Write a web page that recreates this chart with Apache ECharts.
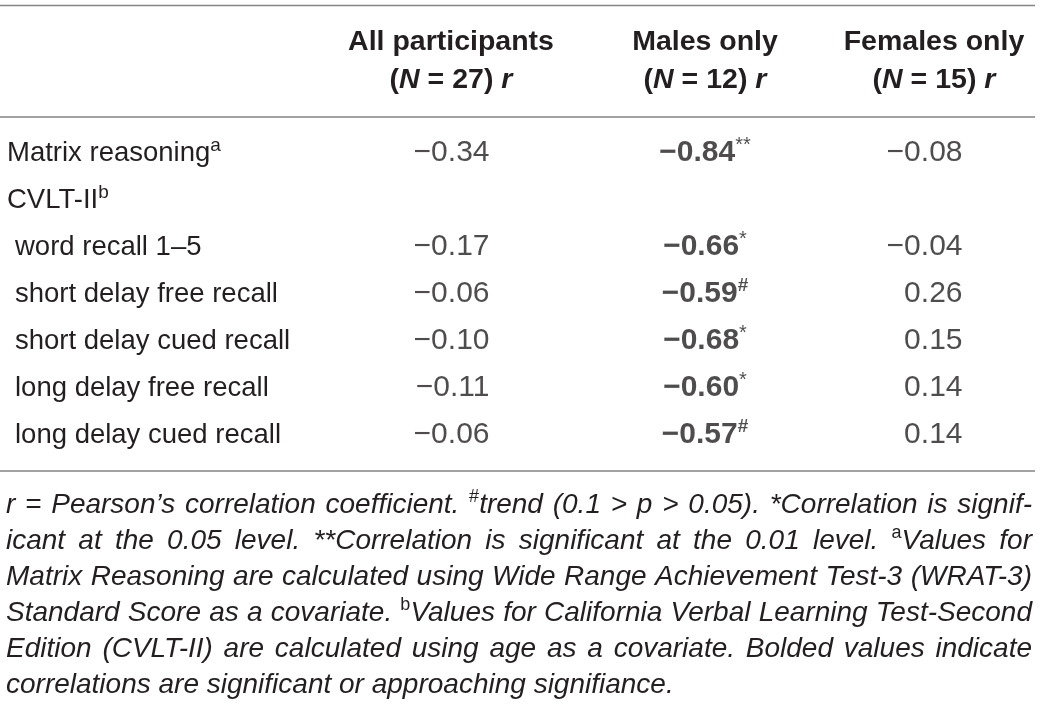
<!DOCTYPE html>
<html><head><meta charset="utf-8">
<script src="https://cdn.jsdelivr.net/npm/echarts@6/dist/echarts.min.js"></script>
<style>html,body{margin:0;padding:0;background:#fff}#c{width:1041px;height:712px}</style>
</head><body><div id="c"></div>
<script>
// ---------- data ----------
const rowLabels = ["Matrix reasoning", "CVLT-II", "word recall 1–5", "short delay free recall",
  "short delay cued recall", "long delay free recall", "long delay cued recall"];
const rowNotes = ["a", "b", "", "", "", "", ""];
const rowIndent = [0, 0, 1, 1, 1, 1, 1];
const allParticipants = [-0.34, null, -0.17, -0.06, -0.10, -0.11, -0.06];
const malesOnly = [-0.84, null, -0.66, -0.59, -0.68, -0.60, -0.57];
const malesMarks = ["**", "", "*", "#", "*", "*", "#"];
const femalesOnly = [-0.08, null, -0.04, 0.26, 0.15, 0.14, 0.14];
const headerTitles = ["All participants", "Males only", "Females only"];
const headerN = [27, 12, 15];
const footnoteLines = [
  "r = Pearson’s correlation coefficient. {s|#}trend (0.1 > p > 0.05). *Correlation is signif-",
  "icant at the 0.05 level. **Correlation is significant at the 0.01 level. {s|a}Values for",
  "Matrix Reasoning are calculated using Wide Range Achievement Test-3 (WRAT-3)",
  "Standard Score as a covariate. {s|b}Values for California Verbal Learning Test-Second",
  "Edition (CVLT-II) are calculated using age as a covariate. Bolded values indicate",
  "correlations are significant or approaching signifiance."
];

// ---------- styling / layout ----------
const FAM = '"Liberation Sans", Arial, sans-serif';
const INK = '#231f20';
const RULE = '#858585';
const colAnchor = [490, 705, 963];
const headerX = [451, 705, 934];
const NUM = 30, LBL = 27.5, HDR = 28.5, SUP = 19;
const fmt = v => (v < 0 ? '\u2212' : '') + Math.abs(v).toFixed(2);

const chart = echarts.init(document.getElementById('c'), null, {renderer: 'canvas'});

function colSeries(values, anchor, position, formatter, rich) {
  const data = [];
  values.forEach((v, i) => { if (v !== null) data.push([anchor, rowLabels[i], v, i]); });
  return {
    type: 'scatter', data, symbolSize: 1, silent: true,
    itemStyle: {color: 'rgba(0,0,0,0)'},
    label: {show: true, position, distance: 0, formatter, color: INK,
      fontFamily: FAM, fontSize: NUM, lineHeight: 36, rich}
  };
}

// footnote justification
const ctx = document.createElement('canvas').getContext('2d');
const FN_SIZE = 28, SUP_SIZE = 18;
const fnFont = `italic normal ${FN_SIZE}px ${FAM}`;
const supFont = `normal normal ${SUP_SIZE}px ${FAM}`;
function measure(word) {
  let w = 0, last = 0, m; const re = /\{s\|([^}]*)\}/g;
  while ((m = re.exec(word))) {
    ctx.font = fnFont; w += ctx.measureText(word.slice(last, m.index)).width;
    ctx.font = supFont; w += ctx.measureText(m[1]).width; last = re.lastIndex;
  }
  ctx.font = fnFont; w += ctx.measureText(word.slice(last)).width;
  return w;
}
const FN_LEFT = 6, FN_RIGHT = 1032, FN_TOP = 505, FN_STEP = 36;
const graphics = [];
[5.5, 117, 471].forEach(y => graphics.push({type: 'line', silent: true,
  shape: {x1: 0, y1: y, x2: 1035, y2: y}, style: {stroke: RULE, lineWidth: 1.6}}));
headerTitles.forEach((t, i) => {
  graphics.push({type: 'text', x: headerX[i], y: 42, silent: true, style: {text: t,
    fontFamily: FAM, fontSize: HDR, fontWeight: 'bold', fontStyle: 'normal', fill: INK, align: 'center', verticalAlign: 'middle'}});
  graphics.push({type: 'text', x: headerX[i], y: 80, silent: true, style: {
    text: '({bi|N} = ' + headerN[i] + ') {bi|r}',
    fontFamily: FAM, fontSize: HDR, fontWeight: 'bold', fontStyle: 'normal', fill: INK, align: 'center', verticalAlign: 'middle',
    rich: {bi: {fontFamily: FAM, fontSize: HDR, fontWeight: 'bold', fontStyle: 'italic', fill: INK}}}});
});
ctx.font = fnFont; const spaceW = ctx.measureText(' ').width;
footnoteLines.forEach((line, li) => {
  const words = line.split(' ');
  const widths = words.map(measure);
  const total = widths.reduce((a, b) => a + b, 0);
  const justify = li < footnoteLines.length - 1;
  const gap = justify ? (FN_RIGHT - FN_LEFT - total) / (words.length - 1) : spaceW;
  let x = FN_LEFT;
  words.forEach((w, wi) => {
    graphics.push({type: 'text', x, y: FN_TOP + li * FN_STEP, silent: true, style: {
      text: w, fontFamily: FAM, fontSize: FN_SIZE, fontStyle: 'italic', fontWeight: 'normal',
      fill: INK, align: 'left', verticalAlign: 'middle', lineHeight: 34,
      rich: {s: {fontFamily: FAM, fontSize: SUP_SIZE, fontStyle: 'normal', fontWeight: 'normal',
        fill: INK, verticalAlign: 'top', lineHeight: 22}}}});
    x += widths[wi] + gap;
  });
});

const option = {
  animation: false,
  backgroundColor: '#fff',
  grid: {left: 0, right: 0, top: 129.5, height: 329, containLabel: false},
  xAxis: {type: 'value', min: 0, max: 1041, show: false},
  yAxis: {
    type: 'category', inverse: true, data: rowLabels,
    axisLine: {show: false}, axisTick: {show: false}, splitLine: {show: false},
    axisLabel: {
      inside: true, margin: 7, interval: 0, color: INK, fontFamily: FAM, fontSize: LBL, lineHeight: 34,
      formatter: (val, idx) => (rowIndent[idx] ? '{ind| }' : '') + '{n|' + val + '}' + (rowNotes[idx] ? '{s|' + rowNotes[idx] + '}' : ''),
      rich: {
        n: {fontSize: LBL, fontFamily: FAM, color: INK, lineHeight: 34},
        ind: {width: 8, fontSize: LBL, lineHeight: 34},
        s: {fontSize: SUP, fontFamily: FAM, color: INK, verticalAlign: 'top', lineHeight: 22}
      }
    }
  },
  series: [
    colSeries(allParticipants, colAnchor[0], 'left', p => fmt(p.value[2]), {}),
    colSeries(malesOnly, colAnchor[1], 'inside',
      p => '{b|' + fmt(p.value[2]) + '}' + (malesMarks[p.value[3]] === '#' ? '{h|#}' : (malesMarks[p.value[3]] ? '{st|' + malesMarks[p.value[3]] + '}' : '')),
      {b: {fontWeight: 'bold', fontSize: NUM, fontFamily: FAM, color: INK, lineHeight: 36},
       h: {fontWeight: 'bold', fontSize: SUP, fontFamily: FAM, color: INK, verticalAlign: 'top', lineHeight: 22},
       st: {fontWeight: 'normal', fontSize: 20, fontFamily: FAM, color: INK, verticalAlign: 'top', lineHeight: 22}}),
    colSeries(femalesOnly, colAnchor[2], 'left', p => fmt(p.value[2]), {})
  ],
  graphic: graphics
};
chart.setOption(option);
</script>
</body></html>
